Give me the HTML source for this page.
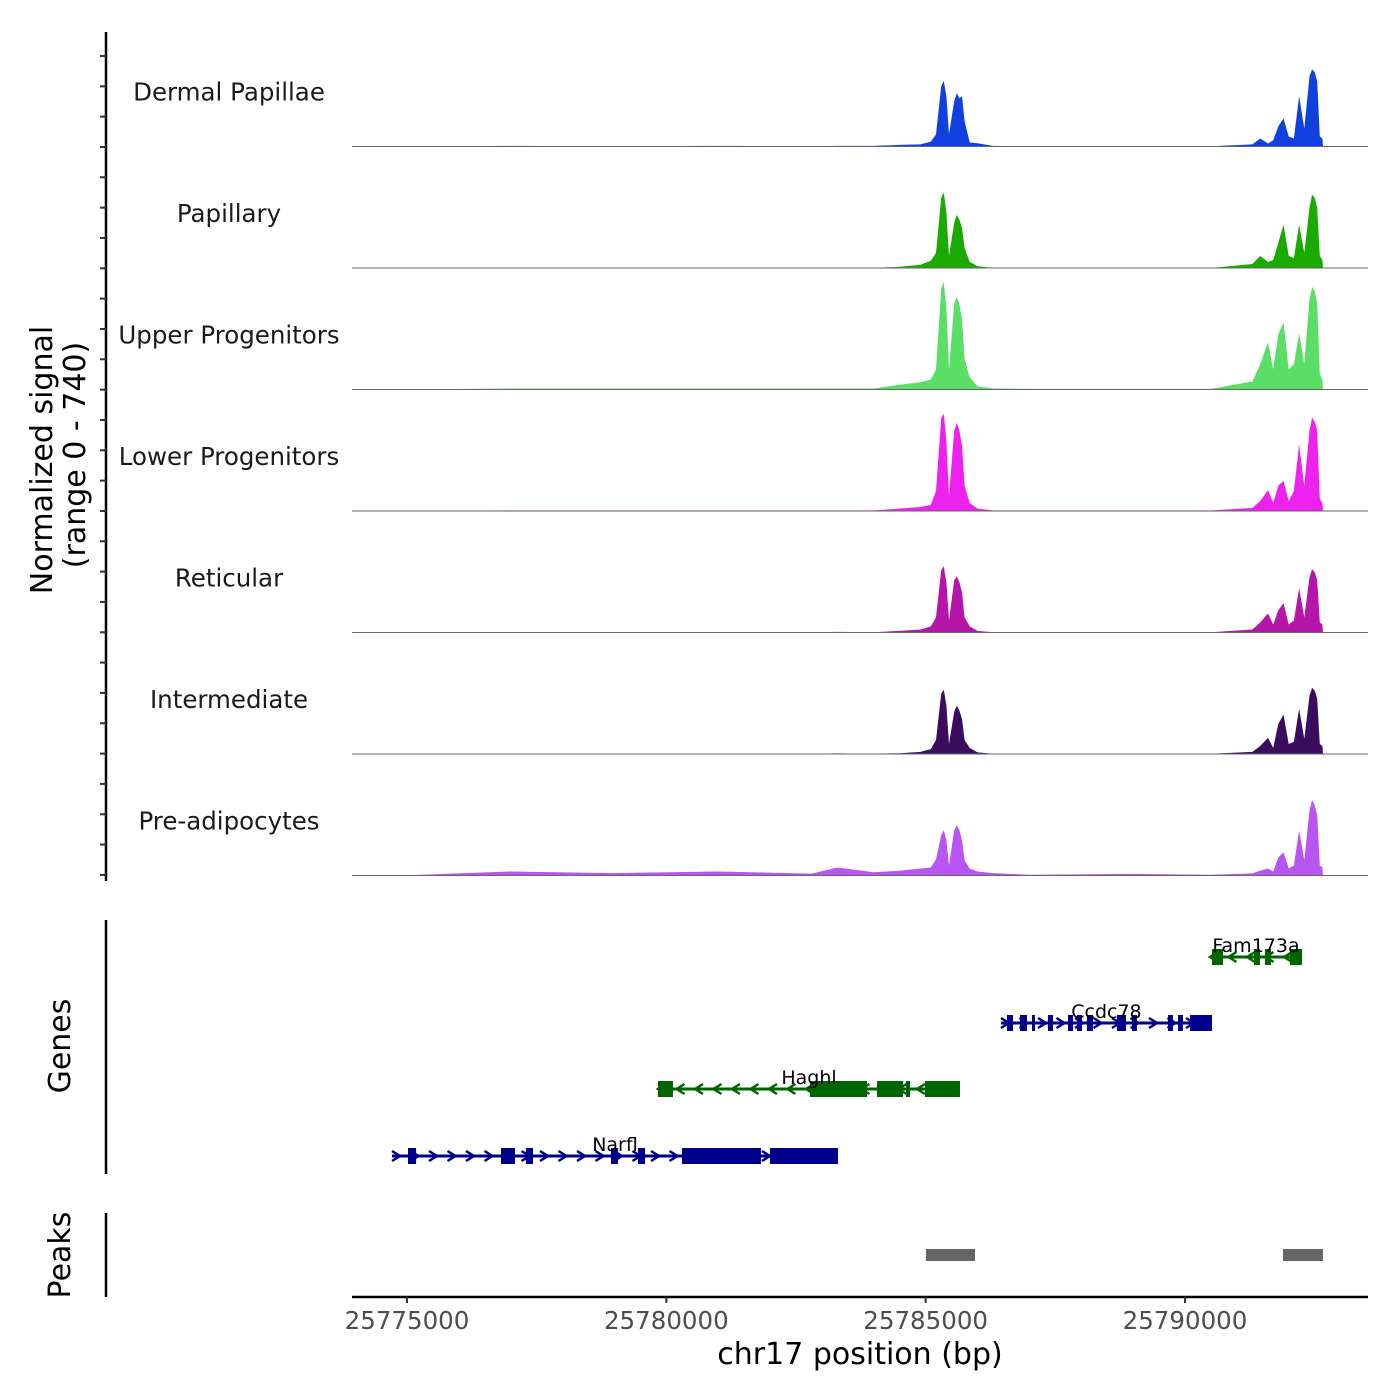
<!DOCTYPE html>
<html><head><meta charset="utf-8"><style>
html,body{margin:0;padding:0;background:#fff;}
svg{display:block;font-family:"DejaVu Sans","Liberation Sans",sans-serif;}
</style></head><body>
<svg id="chart" width="1400" height="1400" viewBox="0 0 1400 1400" xmlns="http://www.w3.org/2000/svg">
<rect x="0" y="0" width="1400" height="1400" fill="#fff"/>
<g id="tracks"></g>
<g id="genes"></g>
<g id="peaks"></g>
<g id="axes"></g>
<text transform="translate(52,460) rotate(-90)" text-anchor="middle" font-size="30" fill="#000">Normalized signal</text>
<text transform="translate(85,455) rotate(-90)" text-anchor="middle" font-size="30" fill="#000">(range 0 - 740)</text>
<text transform="translate(70,1046) rotate(-90)" text-anchor="middle" font-size="30" fill="#000">Genes</text>
<text transform="translate(70,1255) rotate(-90)" text-anchor="middle" font-size="30" fill="#000">Peaks</text>
<text x="860" y="1364" text-anchor="middle" font-size="30" fill="#000">chr17 position (bp)</text>
</svg>
<script>
const trackNames = ["Dermal Papillae","Papillary","Upper Progenitors","Lower Progenitors","Reticular","Intermediate","Pre-adipocytes"];
const trackColors = ["#1040DF","#1AAA00","#5BDE65","#EE22EE","#B515A8","#3A0C5E","#BA55F5"];
const positions = [25774870,25777000,25779000,25781000,25782800,25783300,25784000,25784500,25784900,25785100,25785200,25785300,25785350,25785400,25785450,25785550,25785600,25785650,25785700,25785750,25785850,25786000,25786300,25787000,25789000,25790500,25791300,25791450,25791600,25791700,25791800,25791900,25792000,25792100,25792200,25792300,25792400,25792450,25792500,25792550,25792600,25792650];
const sigDermal = [0,4,2,4,2,4,4,10,13,31,76,378,410,315,76,284,334,302,315,158,25,20,4,2,2,2,13,50,19,38,126,176,63,50,315,113,441,485,466,410,63,50];
const sigPapillary = [0,0,0,0,0,0,0,8,20,45,95,441,473,347,76,284,334,302,252,126,38,12,0,0,0,0,25,76,38,50,158,271,76,63,271,95,378,460,441,378,76,50];
const sigUpper = [0,6,6,6,6,6,6,30,45,63,126,630,674,504,126,536,580,536,441,189,76,20,6,4,4,4,50,158,296,126,347,422,126,158,353,158,567,643,617,536,95,63];
const sigLower = [0,4,4,4,4,4,4,15,25,38,126,580,611,441,95,504,554,504,410,158,50,15,4,4,4,4,19,63,132,50,158,189,63,126,416,158,504,586,560,504,76,50];
const sigReticular = [0,2,2,2,2,4,2,10,19,38,95,391,416,315,76,328,353,315,252,95,38,10,2,2,2,2,19,63,120,50,139,183,50,76,277,95,347,397,378,328,63,50];
const sigIntermediate = [0,2,2,2,2,4,2,5,13,31,88,378,403,302,63,265,302,271,220,88,38,10,2,2,2,2,13,50,101,38,189,246,63,76,284,95,365,416,397,347,63,50];
const sigPreadipo = [0,25,15,25,12,50,20,30,44,50,101,252,284,220,63,284,315,284,220,95,44,25,15,5,10,5,13,31,44,25,113,145,44,63,284,95,410,473,441,378,63,50];
const signals = [sigDermal,sigPapillary,sigUpper,sigLower,sigReticular,sigIntermediate,sigPreadipo];
const xTicks = [25775000,25780000,25785000,25790000];
const yMax = 740;
const geneNames = ["Narfl","Haghl","Ccdc78","Fam173a"];
const geneStrand = ["+","-","+","-"];
const geneRow = [0,1,2,3];
const geneSpan = [[25774711,25783310],[25779839,25785662],[25786452,25790520],[25790482,25792256]];
const geneExons = [
 [[25775019,25775175],[25776812,25777082],[25777294,25777429],[25778933,25779068],[25779454,25779589],[25780302,25781825],[25781999,25783310]],
 [[25779839,25780128],[25782770,25783869],[25784062,25784563],[25784621,25784698],[25784987,25785662]],
 [[25786568,25786684],[25786819,25786954],[25787050,25787108],[25787358,25787455],[25787744,25787840],[25787918,25788014],[25788110,25788226],[25788689,25788862],[25788978,25789074],[25789672,25789768],[25789865,25789961],[25790096,25790520]],
 [[25790520,25790732],[25791330,25791446],[25791542,25791658],[25792024,25792256]]
];
const peakRegions = [[25785006,25785951],[25791889,25792660]];

const NS="http://www.w3.org/2000/svg";
const X0=352,X1=1368,BP0=25775000,PXPER=259.33/5000;
function xs(bp){return 407+(bp-BP0)*PXPER;}
const trackTop=25, trackH=121.5, sigH=118;
function ys(v,i){return trackTop+trackH*(i+1)-v/yMax*sigH;}
function mk(tag,attrs,parent){const e=document.createElementNS(NS,tag);for(const k in attrs)e.setAttribute(k,attrs[k]);parent.appendChild(e);return e;}

const gT=document.getElementById('tracks');
signals.forEach((s,i)=>{
  const base=trackTop+trackH*(i+1);
  let d=`M${xs(positions[0])},${base}`;
  s.forEach((v,j)=>{d+=` L${xs(positions[j]).toFixed(1)},${ys(v,i).toFixed(1)}`;});
  d+=` L${xs(positions[positions.length-1]+10).toFixed(1)},${base} Z`;
  const p=mk('path',{d:d,fill:trackColors[i]},gT);
  
  
  const bl=mk('line',{x1:X0,x2:X1,y1:base,y2:base,stroke:'#666','stroke-width':1},gT);
  
  
  const t=mk('text',{x:229,y:base-46,'text-anchor':'middle','font-size':24.5,fill:'#1a1a1a'},gT);
  t.textContent=trackNames[i];
  
  
});

const gG=document.getElementById('genes');
const rowY=[1156,1089,1023,957];
const gCol={"+":"#00008B","-":"#006400"};
geneNames.forEach((n,g)=>{
  const y=rowY[geneRow[g]], c=gCol[geneStrand[g]];
  const grp=mk('g',{},gG);
  
  
  const xa=xs(geneSpan[g][0]), xb=xs(geneSpan[g][1]);
  mk('line',{x1:xa,x2:xb,y1:y,y2:y,stroke:c,'stroke-width':3},grp);
  for(let x=xa+4;x<xb-4;x+=18.5){
    const dx=geneStrand[g]=="+"?4:-4;
    mk('polyline',{points:`${x-dx},${y-5} ${x+dx},${y} ${x-dx},${y+5}`,fill:'none',stroke:c,'stroke-width':2.5},grp);
  }
  geneExons[g].forEach(e=>{
    const r=mk('rect',{x:xs(e[0]),y:y-8,width:Math.max(3,xs(e[1])-xs(e[0])),height:16,fill:c},grp);
    
    
  });
  const t=mk('text',{x:(xa+xb)/2,y:y-5,'text-anchor':'middle','font-size':19,fill:'#000'},grp);
  t.textContent=n;
});

const gP=document.getElementById('peaks');
peakRegions.forEach(r=>{
  const e=mk('rect',{x:xs(r[0]),y:1249,width:xs(r[1])-xs(r[0]),height:12,fill:'#666'},gP);
  
  
});

const gA=document.getElementById('axes');
mk('line',{x1:106,x2:106,y1:32,y2:881,stroke:'#000','stroke-width':2.5},gA);
for(let k=0;k<=27;k++){const y=56+k*30.33;mk('line',{x1:100,x2:106,y1:y,y2:y,stroke:'#333','stroke-width':2},gA);}
mk('line',{x1:106,x2:106,y1:920,y2:1174,stroke:'#000','stroke-width':2.5},gA);
mk('line',{x1:106,x2:106,y1:1213,y2:1297,stroke:'#000','stroke-width':2.5},gA);
mk('line',{x1:X0,x2:X1,y1:1297,y2:1297,stroke:'#000','stroke-width':2.5},gA);
xTicks.forEach(v=>{
  const x=xs(v);
  mk('line',{x1:x,x2:x,y1:1297,y2:1303,stroke:'#333','stroke-width':2},gA);
  const t=mk('text',{x:x,y:1329,'text-anchor':'middle','font-size':24.5,fill:'#4d4d4d'},gA);
  t.textContent=String(v);
  
  
});
</script>
</body></html>
